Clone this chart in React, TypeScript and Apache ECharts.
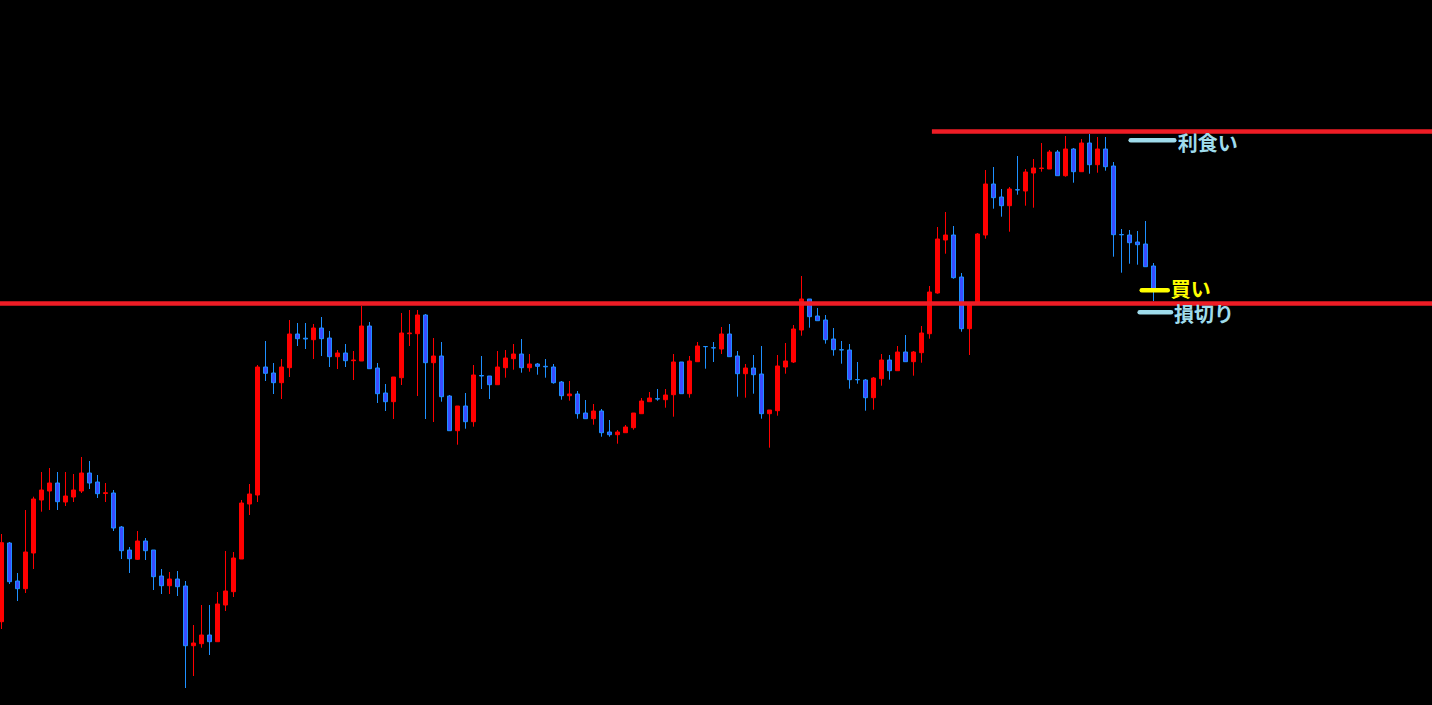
import React, { useEffect, useRef } from "react";
import * as echarts from "echarts";

// Candle OHLC values (price units)
const opens = [
  83.3, 162, 124, 116.3, 152, 205, 214, 222, 203, 208, 214, 232, 223, 211.5, 212, 178, 155, 145.7, 164, 155,
  129, 119.3, 126, 119, 59.3, 61.3, 70, 63.3, 100, 113.3, 146, 201, 210, 338, 332, 322.3, 337.3, 371, 366.8, 365.3,
  377, 367, 348.3, 352, 344.3, 344, 379, 337, 312, 303.3, 327.3, 371.3, 371.3, 390, 342.3, 349, 309, 274.3, 299, 283.3,
  329.5, 329, 320.3, 337.3, 346.3, 351, 337.3, 341, 338.7, 338, 323, 309.3, 311, 292, 286.3, 294, 273, 270.3, 272.3, 277.3,
  291.3, 303.3, 306.3, 305.3, 310.3, 343, 311.3, 343.3, 358.5, 357.3, 356, 371, 349, 331.3, 337, 331, 291.3, 294.3, 338, 343,
  375, 406, 389, 385, 366, 355.3, 355, 325.5, 325, 307.3, 326.3, 345, 334.3, 353, 343.3, 352.3, 371.3, 412, 465, 470,
  428, 376.3, 402, 470, 521, 508, 499.3, 515.3, 514, 532, 536.5, 536, 553, 529.3, 556, 533.3, 562, 540.3, 556, 539,
  470.5, 470, 463, 461, 439,
];
const closes = [
  162.3, 123.3, 116.3, 153, 206, 215, 222, 203.3, 209, 215, 232, 222, 211.3, 212.3, 177, 154.3, 146.3, 164, 154.3, 128.3,
  119.3, 126, 118.3, 59.3, 62, 70, 63.3, 101, 114, 147, 202, 211, 338, 331.7, 322.3, 338, 371, 366.3, 366, 377,
  366.3, 348.3, 352, 344.3, 345, 379, 336.3, 311.3, 303.3, 328, 372, 372, 390, 342.3, 349, 308.3, 274.3, 299, 283.3, 330,
  329, 320.3, 338, 347, 351, 337.3, 341, 338.7, 338.2, 322.3, 309.3, 311, 291.3, 286.3, 294, 272.3, 270.3, 273, 278, 292,
  304, 307, 306, 310, 343, 311.3, 344, 359, 358.3, 357, 371, 348.3, 331.3, 337, 330.3, 291.3, 295, 339, 344, 376,
  406, 388.3, 384.3, 365.3, 355.3, 355, 325.3, 325.2, 307.3, 327, 345, 334.3, 353, 343.3, 353, 372, 413, 466, 470, 427.3,
  376.3, 402, 471, 521, 507.3, 499.3, 516, 515, 533, 537, 537, 553, 529.3, 556, 533.3, 562, 540.3, 556, 538.3, 470.3,
  470.2, 462.3, 460.3, 438.3, 415,
];
const lows = [
  76, 121, 104, 112, 136, 193.3, 195, 195, 199, 203, 212, 216, 207, 203, 174, 146, 132, 145, 145, 115,
  111, 111, 109, 17, 29, 57.3, 50, 63.3, 94, 108, 146, 190, 203, 324, 311, 306, 328, 359, 356, 346,
  349, 338, 336, 338, 325, 344, 336.3, 302, 294, 286, 320, 359, 309, 286, 283, 303.3, 274.3, 260.3, 276.3, 278.3,
  316, 306, 320.3, 327.3, 335.3, 332.3, 333.3, 330.3, 327.3, 321.3, 305.3, 304.3, 286.3, 286.3, 280.3, 268.3, 268.3, 261.3, 272.3, 275.3,
  291.3, 303.3, 304.3, 297.3, 288.3, 311.3, 307.3, 343.3, 336.3, 343, 351, 348.3, 308.3, 307.3, 311.3, 286.3, 257.3, 289.3, 331.3, 342,
  369.3, 377.3, 384.3, 361.3, 349.3, 341.3, 316.3, 321.3, 294.3, 295.3, 319.3, 325.3, 334.3, 343.3, 329.3, 342.3, 366.3, 411.3, 451.3, 426.3,
  373.3, 350, 402, 466.3, 496.3, 488.3, 473.3, 510.3, 499.3, 497.3, 533.3, 536, 529.3, 528.3, 522.3, 533.3, 531.3, 532.3, 534.3, 448.3,
  432.3, 441.3, 440.3, 438.3, 404,
];
const highs = [
  171, 163, 132, 195, 208.3, 233, 237, 233, 233, 231, 248, 244, 230, 222, 215, 179, 158, 174, 167, 155,
  136, 133, 134, 124, 80, 100, 100, 113, 154, 153, 205, 221, 340, 364, 342, 346, 385, 382, 382, 381,
  388, 374, 355, 361, 354, 399, 383, 342, 321, 328, 392, 395, 395, 391, 367, 363, 310, 299, 312, 340,
  349, 329, 354, 355, 361, 366, 351, 342, 346, 341, 324, 324, 314, 305, 301, 296, 285, 275, 280, 292,
  307, 313, 316, 316, 351, 343, 349, 363, 359, 363, 378, 381, 354, 341, 350, 359, 295, 350, 362, 380,
  429, 406, 397, 390, 377, 364, 361, 343, 326, 328, 351, 350, 359, 370, 354, 379, 419, 478, 493, 479,
  432, 403, 472, 535, 538, 516, 518, 549, 536, 546, 562, 555, 555, 569, 557, 566, 571, 568, 568, 543,
  476, 475, 474, 484, 442,
];

const slotCount = 180; // visible candle slots across the window

// Horizontal levels (price) and their horizontal spans (bar index)
const resistanceLevel = 401.5;
const takeProfitBar = 573.5;
const takeProfitBarStart = 116.3;
const takeProfitLevel = 564.7;
const buyLevel = 414.7;
const stopLossLevel = 392.7;
const labelSpans = {
  tp: [141.15, 146.6],
  buy: [142.53, 145.78],
  sl: [142.27, 146.19],
};
const labelTexts = { tp: "利食い", buy: "買い", sl: "損切り" };

export default function App() {
  const ref = useRef<HTMLDivElement>(null);

  useEffect(() => {
    if (!ref.current) return;
    const chart = echarts.init(ref.current, undefined, { renderer: "svg" });
    const categories = Array.from({ length: slotCount }, (_, i) => String(i));
    const candleData = opens.map((o, i) => [o, closes[i], lows[i], highs[i]]);

    const lightBlue = "#9fdcec";
    const labelFont = {
      fontSize: 20,
      fontWeight: "bold" as const,
      fontFamily: "'Noto Sans CJK JP', sans-serif",
    };

    const levelLine = (
      name: string,
      y: number,
      x0: number,
      x1: number,
      color: string,
      width: number,
      cap: "round" | "butt",
      label?: string,
      offsetY = 0,
      distance = 3
    ) => ({
      type: "line",
      name,
      xAxisIndex: 1,
      yAxisIndex: 0,
      data: [
        [x0, y],
        [x1, y],
      ],
      showSymbol: false,
      symbol: "none",
      silent: true,
      lineStyle: { color, width, cap },
      endLabel: label
        ? {
            show: true,
            formatter: label,
            color,
            distance,
            offset: [0, offsetY],
            ...labelFont,
          }
        : { show: false },
      z: 5,
    });

    chart.setOption({
      animation: false,
      backgroundColor: "#000000",
      grid: { left: 7.5, top: 0, width: slotCount * 8, height: 705 },
      xAxis: [
        {
          type: "category",
          data: categories,
          boundaryGap: true,
          show: false,
        },
        {
          type: "value",
          min: -0.5,
          max: slotCount - 0.5,
          show: false,
        },
      ],
      yAxis: [
        {
          type: "value",
          min: 0,
          max: 705,
          show: false,
        },
      ],
      series: [
        {
          type: "candlestick",
          xAxisIndex: 0,
          yAxisIndex: 0,
          data: candleData,
          barWidth: 4,
          itemStyle: {
            color: "#ff0000",
            borderColor: "#ff0000",
            color0: "#3a4cff",
            borderColor0: "#1e90ff",
            borderWidth: 1,
          },
          z: 2,
        },
        levelLine("resistance", resistanceLevel, -2, slotCount + 2, "#ee1c25", 4.5, "butt"),
        levelLine("tpBar", takeProfitBar, takeProfitBarStart, slotCount + 2, "#ee1c25", 4.5, "butt"),
        levelLine("tp", takeProfitLevel, labelSpans.tp[0], labelSpans.tp[1], lightBlue, 4.5, "round", labelTexts.tp, 2, 3.5),
        levelLine("buy", buyLevel, labelSpans.buy[0], labelSpans.buy[1], "#ffff00", 4.5, "round", labelTexts.buy, -2, 3),
        levelLine("sl", stopLossLevel, labelSpans.sl[0], labelSpans.sl[1], lightBlue, 4.5, "round", labelTexts.sl, 1, 3),
      ],
    });

    return () => chart.dispose();
  }, []);

  return (
    <div
      style={{
        position: "fixed",
        left: 0,
        top: 0,
        width: 1432,
        height: 705,
        overflow: "hidden",
        background: "#000",
      }}
    >
      <div
        ref={ref}
        style={{
          position: "absolute",
          left: -10,
          top: 0,
          width: 1452,
          height: 705,
        }}
      />
    </div>
  );
}
